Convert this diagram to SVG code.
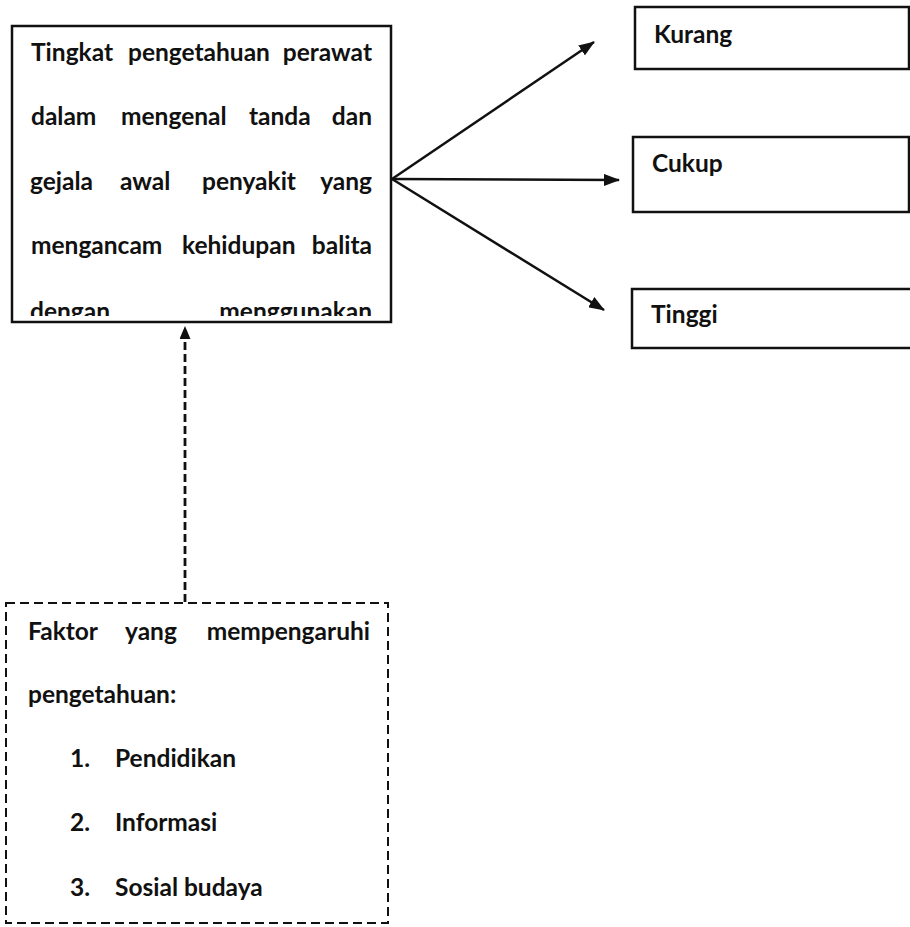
<svg xmlns="http://www.w3.org/2000/svg" width="910" height="927" viewBox="0 0 910 927">
<style>
  .t { font-family: Lato, "Open Sans", "Liberation Sans", sans-serif; font-size: 24.5px; font-weight: bold; fill: #111; }
  .box { fill: #fff; stroke: #111; stroke-width: 2.5; }
  .dbox { fill: #fff; stroke: #111; stroke-width: 2; stroke-dasharray: 9 5; }
  .conn { stroke: #111; stroke-width: 2.5; fill: none; }
  .dconn { stroke: #111; stroke-width: 2.8; fill: none; stroke-dasharray: 8 4; }
  .e { text-anchor: end; }
</style>
<defs>
  <marker id="ah" viewBox="0 0 16 12" refX="15" refY="6" markerWidth="16" markerHeight="12" markerUnits="userSpaceOnUse" orient="auto">
    <path d="M0,0 L16,6 L0,12 Z" fill="#111"/>
  </marker>
  <marker id="ahd" viewBox="0 0 13 11" refX="12" refY="5.5" markerWidth="13" markerHeight="11" markerUnits="userSpaceOnUse" orient="auto">
    <path d="M0,0 L13,5.5 L0,11 Z" fill="#111"/>
  </marker>
  <clipPath id="mainClip"><rect x="13" y="27" width="377" height="289"/></clipPath>
</defs>
<rect width="910" height="927" fill="#fff"/>

<g id="main">
  <rect class="box" x="12" y="26" width="379" height="296"/>
  <g clip-path="url(#mainClip)">
    <text class="t" x="31" y="61">Tingkat</text>
    <text class="t" x="128" y="61">pengetahuan</text>
    <text class="t e" x="372" y="61">perawat</text>
    <text class="t" x="31" y="125">dalam</text>
    <text class="t" x="121" y="125">mengenal</text>
    <text class="t" x="249" y="125">tanda</text>
    <text class="t e" x="372" y="125">dan</text>
    <text class="t" x="30" y="190">gejala</text>
    <text class="t" x="120" y="190">awal</text>
    <text class="t" x="202" y="190">penyakit</text>
    <text class="t e" x="372" y="190">yang</text>
    <text class="t" x="31" y="254">mengancam</text>
    <text class="t" x="182" y="254">kehidupan</text>
    <text class="t e" x="372" y="254">balita</text>
    <text class="t" x="30" y="320">dengan</text>
    <text class="t e" x="372" y="320">menggunakan</text>
  </g>
</g>

<g id="kurang">
  <rect class="box" x="635" y="7" width="274" height="62"/>
  <text class="t" x="654" y="43">Kurang</text>
</g>
<g id="cukup">
  <rect class="box" x="633" y="137" width="276" height="75"/>
  <text class="t" x="652" y="172">Cukup</text>
</g>
<g id="tinggi">
  <rect class="box" x="632" y="289" width="290" height="59"/>
  <text class="t" x="651" y="323">Tinggi</text>
</g>

<g id="faktor">
  <rect class="dbox" x="6" y="603" width="382" height="320"/>
  <text class="t" x="28" y="640">Faktor</text>
  <text class="t" x="125" y="640">yang</text>
  <text class="t e" x="370" y="640">mempengaruhi</text>
  <text class="t" x="28" y="703">pengetahuan:</text>
  <text class="t" x="70" y="767">1.</text>
  <text class="t" x="115" y="767">Pendidikan</text>
  <text class="t" x="70" y="831">2.</text>
  <text class="t" x="115" y="831">Informasi</text>
  <text class="t" x="70" y="896">3.</text>
  <text class="t" x="115" y="896">Sosial budaya</text>
</g>

<g id="connectors">
  <line class="conn" x1="392" y1="179" x2="594" y2="42" marker-end="url(#ah)"/>
  <line class="conn" x1="392" y1="179" x2="619" y2="180" marker-end="url(#ah)"/>
  <line class="conn" x1="392" y1="179" x2="604" y2="310" marker-end="url(#ah)"/>
  <line class="dconn" x1="185" y1="602" x2="185" y2="327" marker-end="url(#ahd)"/>
</g>
</svg>
